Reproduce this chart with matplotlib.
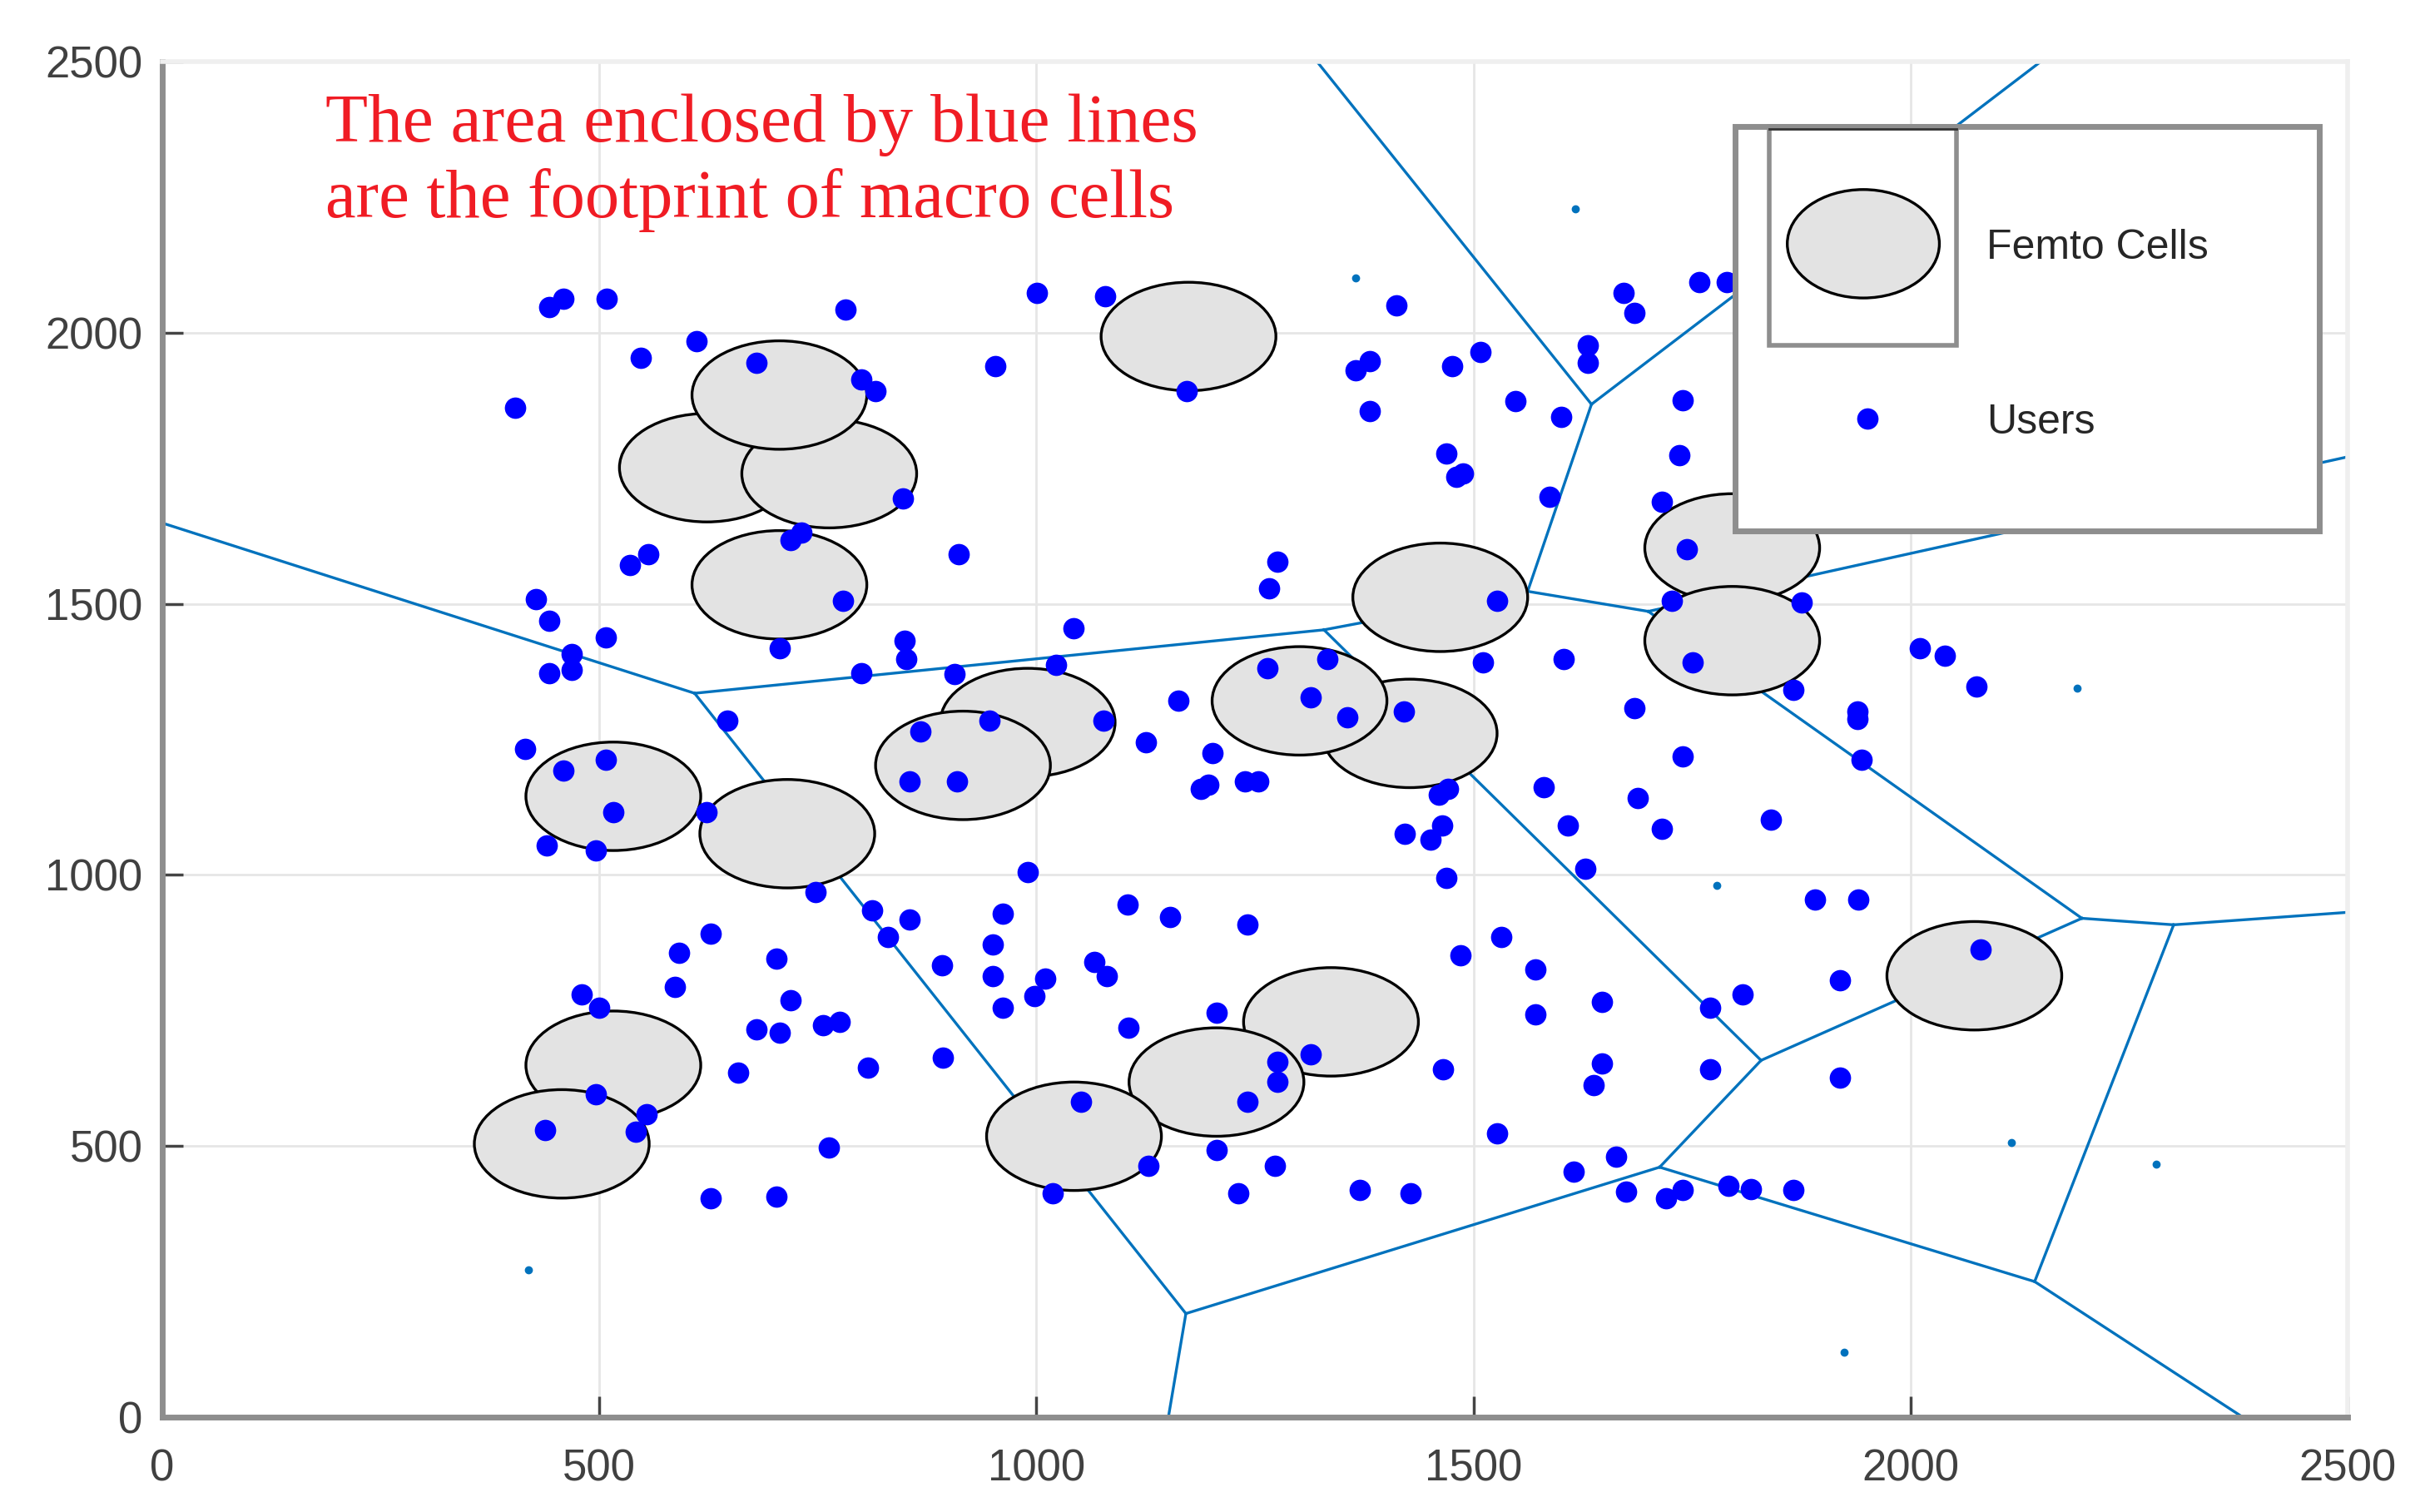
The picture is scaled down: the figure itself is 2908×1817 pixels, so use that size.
import numpy as np
import matplotlib
matplotlib.use("Agg")
import matplotlib.pyplot as plt
from matplotlib.patches import Ellipse, Rectangle

# macro cell borders, each row is x0, y0, x1, y1
edges = np.array([
    [0, 1649, 609, 1335],
    [609, 1335, 1329, 1452],
    [1329, 1452, 1562, 1523],
    [1562, 1523, 1700, 1486],
    [1700, 1486, 2500, 1771],
    [1562, 1523, 1635, 1868],
    [1635, 1868, 1321, 2500],
    [1635, 1868, 2149, 2500],
    [1329, 1452, 1829, 658],
    [1829, 658, 1713, 461],
    [1829, 658, 2196, 920],
    [2196, 920, 2301, 908],
    [2301, 908, 2500, 931],
    [2301, 908, 2142, 250],
    [2142, 250, 1713, 461],
    [2142, 250, 2380, 0],
    [1713, 461, 1171, 191],
    [1171, 191, 609, 1335],
    [1171, 191, 1151, 0],
    [1700, 1486, 2196, 920],
])

femto_x = [1174, 623, 763, 706, 706, 1462, 1796, 1796, 1427, 1301, 990, 916, 516, 715, 2073, 1337, 1206, 1043, 516, 457]
femto_y = [1993, 1751, 1740, 1885, 1535, 1512, 1603, 1432, 1261, 1321, 1281, 1202, 1145, 1076, 814, 729, 618, 518, 649, 504]

users_x = [404, 443, 459, 508, 547, 611, 680, 782, 800, 816, 953, 1001, 1079, 1172, 1412, 1365, 1381, 1381,
           1476, 1508, 1548, 1600, 1631, 1631, 1672, 1684, 1758, 1790, 1739, 1736, 1716, 1587, 1469, 1480, 1488,
           1744, 1727, 1875, 1751, 1866, 847, 911, 535, 556, 719, 731, 779, 427, 443, 507, 468, 468, 443, 706,
           800, 849, 851, 906, 1042, 1022, 1276, 1266, 1264, 1333, 1314, 1356, 1420, 1511, 1527, 1603, 1684, 1739,
           1580, 1688, 1608, 1716, 1840, 1628, 1891, 1940, 1939, 1939, 1944, 2011, 2039, 2075, 646, 415, 459, 507,
           516, 440, 496, 623, 867, 946, 1077, 1162, 1125, 1201, 1188, 1197, 1239, 1254, 855, 909, 1460, 1471,
           1421, 1451, 1464, 1469, 747, 812, 830, 855, 962, 990, 950, 950, 962, 998, 1010, 892, 627, 591, 586,
           703, 719, 680, 706, 756, 775, 659, 480, 500, 496, 554, 542, 438, 763, 627, 703, 807, 893, 1104, 1153,
           1241, 1066, 1081, 1105, 1206, 1051, 1019, 1128, 1206, 1241, 1231, 1276, 1276, 1273, 1314, 1370, 1428,
           1465, 1527, 1485, 1532, 1571, 1571, 1647, 1647, 1637, 1615, 1663, 1675, 1720, 1739, 1792, 1817, 1866,
           1919, 1919, 1771, 1771, 1808, 2080]
users_y = [1862, 2047, 2062, 2062, 1953, 1985, 1945, 2042, 1913, 1893, 1939, 2073, 2067, 1893, 2050, 1930, 1948, 1856,
           1939, 1965, 1874, 1845, 1976, 1945, 2073, 2036, 2093, 2093, 1876, 1774, 1688, 1697, 1777, 1734, 1740,
           1600, 1506, 1503, 1392, 1341, 1694, 1592, 1572, 1592, 1617, 1632, 1506, 1509, 1469, 1438, 1407, 1378, 1372, 1418,
           1372, 1432, 1398, 1370, 1455, 1387, 1577, 1529, 1381, 1398, 1327, 1290, 1301, 1392, 1506, 1398, 1307, 1219,
           1162, 1142, 1091, 1085, 1102, 1011, 954, 954, 1287, 1301, 1213, 1418, 1404, 1347, 1284, 1233, 1193, 1213,
           1116, 1054, 1045, 1116, 1264, 1284, 1284, 1321, 1244, 1224, 1159, 1167, 1173, 1173, 1173, 1173, 1148, 1159,
           1076, 1065, 1091, 994, 968, 934, 886, 917, 928, 1005, 871, 814, 755, 777, 809, 834, 891, 857, 794,
           846, 769, 715, 709, 723, 729, 635, 780, 755, 595, 558, 527, 530, 498, 404, 407, 644, 663, 945, 923,
           908, 840, 814, 718, 746, 581, 413, 464, 493, 581, 413, 655, 618, 464, 669, 419, 413,
           641, 524, 851, 886, 826, 743, 766, 652, 612, 453, 481, 416, 404, 419, 427, 421, 419,
           626, 806, 755, 641, 780, 863]

# tiny points, no idea what these are in the original
small_x = [1365, 1617, 2191, 1778, 2115, 2281, 1924, 419]
small_y = [2101, 2229, 1344, 980, 507, 467, 120, 271]

ticks = [0, 500, 1000, 1500, 2000, 2500]
note_lines = ["The area enclosed by blue lines", "are the footprint of macro cells"]
legend_labels = ["Femto Cells", "Users"]

BLUE = "#0072BD"
GREY = "#8e8e8e"

plt.rcParams["font.family"] = ["Liberation Sans", "DejaVu Sans"]

fig = plt.figure(figsize=(29.08, 18.17), dpi=100)
ax = fig.add_axes([195 / 2908, 114 / 1817, 2626 / 2908, 1629 / 1817])

for x0, y0, x1, y1 in edges:
    ax.plot([x0, x1], [y0, y1], color=BLUE, lw=2.4, zorder=2)
ax.plot(small_x, small_y, ls="none", marker="o", ms=6, color=BLUE, zorder=2)

for x, y in zip(femto_x, femto_y):
    ax.add_patch(Ellipse((x, y), 200, 200, fc="#e3e3e3", ec="black", lw=2.4, zorder=3))
ax.plot(users_x, users_y, ls="none", marker="o", ms=18.5, color="#0000ff", mew=0, zorder=4)

ax.text(187, 2353, note_lines[0], family="Liberation Serif", fontsize=60, color="#f01c24", zorder=5)
ax.text(187, 2213, note_lines[1], family="Liberation Serif", fontsize=59.5, color="#f01c24", zorder=5)

# hand made legend, same as in the source figure
ax.add_patch(Rectangle((1799, 1634), 669, 746, fc="white", ec=GREY, lw=5, zorder=6))
ax.add_patch(Rectangle((1838, 1976), 215, 404, fc="none", ec=GREY, lw=4, zorder=7))
ax.plot([1838, 2053], [2376, 2376], color="#333333", lw=2, zorder=8)
ax.plot([2053, 2065], [2172, 2172], color="#77ac30", lw=2, zorder=5)
ax.add_patch(Ellipse((1946, 2164), 174, 200, fc="#e3e3e3", ec="black", lw=2.4, zorder=8))
ax.plot([1951], [1842], ls="none", marker="o", ms=18.5, color="#0000ff", mew=0, zorder=8)
ax.text(2087, 2156, legend_labels[0], fontsize=36, color="#262626", va="center", zorder=8)
ax.text(2087, 1834, legend_labels[1], fontsize=36, color="#262626", va="center", zorder=8)

ax.set_xlim(0, 2500)
ax.set_ylim(0, 2500)
ax.set_xticks(ticks)
ax.set_yticks(ticks)
ax.grid(True, color="#e6e6e6", lw=2)
ax.set_axisbelow(True)
ax.tick_params(direction="in", length=18, width=2.5, color="#444444", labelcolor="#404040", labelsize=38)
ax.tick_params(axis="x", pad=27)
ax.tick_params(axis="y", pad=17)

for side in ["left", "bottom"]:
    ax.spines[side].set_color(GREY)
    ax.spines[side].set_linewidth(5)
for side in ["top", "right"]:
    ax.spines[side].set_color("#efefef")
    ax.spines[side].set_linewidth(4)

fig.savefig("out.png", dpi=100)
